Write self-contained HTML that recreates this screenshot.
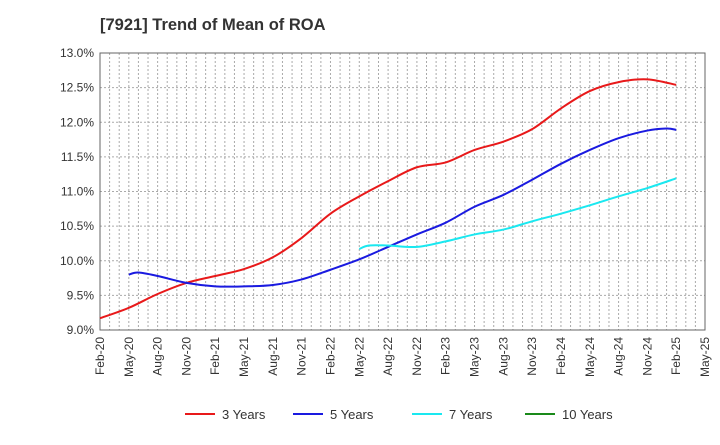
<!DOCTYPE html>
<html><head><meta charset="utf-8"><style>
body{margin:0;background:#fff;font-family:"Liberation Sans",sans-serif}
</style></head><body>
<svg id="c" width="720" height="440" xmlns="http://www.w3.org/2000/svg" font-family="Liberation Sans, sans-serif">
<text x="100" y="30" font-size="16.5" font-weight="bold" fill="#333">[7921]  Trend of Mean of ROA</text>
<g id="grid"></g><g id="axes"></g><g id="series"></g><g id="legend"></g>
</svg>
<script>
const xTickLabels=["Feb-20","May-20","Aug-20","Nov-20","Feb-21","May-21","Aug-21","Nov-21","Feb-22","May-22","Aug-22","Nov-22","Feb-23","May-23","Aug-23","Nov-23","Feb-24","May-24","Aug-24","Nov-24","Feb-25","May-25"];
const yTicks=[9.0,9.5,10.0,10.5,11.0,11.5,12.0,12.5,13.0];
// month index from Feb-20
const m3=[0,3,6,9,12,15,18,21,24,27,30,33,36,39,42,45,48,51,54,57,60];
const v3=[9.17,9.32,9.52,9.68,9.78,9.88,10.05,10.33,10.68,10.93,11.15,11.35,11.42,11.6,11.72,11.9,12.2,12.45,12.58,12.62,12.54];
const m5=[3,4,6,9,12,15,18,21,24,27,30,33,36,39,42,45,48,51,54,57,59,60];
const v5=[9.8,9.83,9.78,9.68,9.63,9.63,9.65,9.73,9.87,10.02,10.2,10.38,10.55,10.78,10.95,11.17,11.4,11.6,11.77,11.88,11.91,11.89];
const m7=[27,28,30,33,36,39,42,45,48,51,54,57,60];
const v7=[10.17,10.22,10.22,10.2,10.28,10.38,10.45,10.57,10.68,10.8,10.93,11.05,11.19];
const m10=[];const v10=[];
const X0=100,X1=705,Y0=330,Y1=53;
const x=m=>X0+m*(X1-X0)/63;
const y=v=>Y0-(v-9)*(Y0-Y1)/4;
const NS="http://www.w3.org/2000/svg";
function mk(t,a,p){const e=document.createElementNS(NS,t);for(const k in a)e.setAttribute(k,a[k]);p.appendChild(e);return e;}
const g=document.getElementById('grid'),ax=document.getElementById('axes'),s=document.getElementById('series'),lg=document.getElementById('legend');
for(let m=1;m<=63;m++){const l=mk('line',{x1:x(m),x2:x(m),y1:Y1,y2:Y0,stroke:'#aaa','stroke-dasharray':'2,2','stroke-width':1},g);

}
yTicks.forEach(v=>{const l=mk('line',{x1:X0,x2:X1,y1:y(v),y2:y(v),stroke:'#aaa','stroke-dasharray':'2,2'},g);


const t=mk('text',{x:X0-6,y:y(v)+4,'font-size':12,'text-anchor':'end',fill:'#333'},ax);t.textContent=v.toFixed(1)+'%';

});
const fr=mk('rect',{x:X0,y:Y1,width:X1-X0,height:Y0-Y1,fill:'none',stroke:'#666'},ax);


xTickLabels.forEach((lb,i)=>{const px=x(i*3);const t=mk('text',{x:0,y:0,'font-size':12,'text-anchor':'end',fill:'#333',transform:`translate(${px+4},${Y0+7}) rotate(-90)`},ax);t.textContent=lb;

});
function path(ms,vs){if(!ms.length)return '';const p=ms.map((m,i)=>[x(m),y(vs[i])]);let d=`M${p[0][0]},${p[0][1]}`;
for(let i=0;i<p.length-1;i++){const a=p[i-1]||p[i],b=p[i],c=p[i+1],e=p[i+2]||c;
d+=` C${b[0]+(c[0]-a[0])/6},${b[1]+(c[1]-a[1])/6} ${c[0]-(e[0]-b[0])/6},${c[1]-(e[1]-b[1])/6} ${c[0]},${c[1]}`;}return d;}
const ser=[[m3,v3,'#e8191a','3 Years','line-3-years'],[m5,v5,'#1a1ae0','5 Years','line-5-years'],[m7,v7,'#1ae8f0','7 Years','line-7-years'],[m10,v10,'#1a8a1a','10 Years','line-10-years']];
const lx=[185,293,412,525];
ser.forEach((sr,i)=>{if(sr[0].length){const p=mk('path',{d:path(sr[0],sr[1]),fill:'none',stroke:sr[2],'stroke-width':2},s);

}
const l=mk('line',{x1:lx[i],x2:lx[i]+30,y1:414,y2:414,stroke:sr[2],'stroke-width':2},lg);


const t=mk('text',{x:lx[i]+37,y:419,'font-size':13,fill:'#333'},lg);t.textContent=sr[3];

});
</script>
</body></html>
